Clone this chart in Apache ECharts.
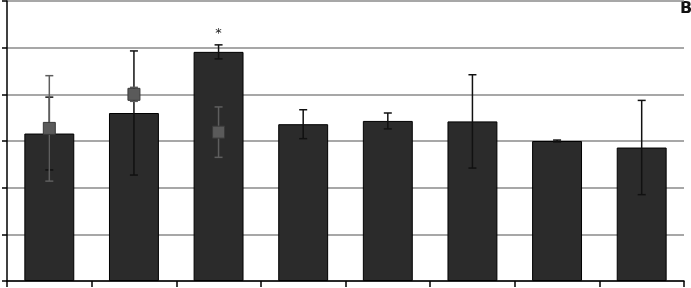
<!DOCTYPE html>
<html>
<head>
<meta charset="utf-8">
<script src="https://cdn.jsdelivr.net/npm/echarts@6/dist/echarts.min.js"></script>
<style>html,body{margin:0;padding:0;background:#fff}#c{width:691px;height:288px}</style>
</head>
<body>
<div id="c"></div>
<script>
var categories = ['1', '2', '3', '4', '5', '6', '7', '8'];
var barValues = [3.16, 3.60, 4.91, 3.36, 3.43, 3.42, 3.00, 2.86];
var barErrors = [0.78, 1.33, 0.15, 0.31, 0.17, 1.00, 0.02, 1.01];
var squareValues = [3.27, 4.00, 3.19, '-', '-', '-', '-', '-'];
var squareErrors = [1.13, 0.15, 0.54, 0, 0, 0, 0, 0];
var annotations = ['', '', '*', '', '', '', '', ''];
var yTicks = [0, 1, 2, 3, 4, 5, 6];

var chart = echarts.init(document.getElementById('c'), null, {renderer: 'canvas'});

function errData(vals, errs) {
  var d = [];
  for (var i = 0; i < vals.length; i++) {
    if (vals[i] === '-') continue;
    d.push([i, vals[i] - errs[i], vals[i] + errs[i], annotations[i]]);
  }
  return d;
}

function errRender(color, cap, withText) {
  return function (params, api) {
    var x = api.value(0);
    var lo = api.coord([x, api.value(1)]);
    var hi = api.coord([x, api.value(2)]);
    var st = {stroke: color, lineWidth: 1.5};
    var children = [
      {type: 'line', shape: {x1: hi[0], y1: hi[1], x2: lo[0], y2: lo[1]}, style: st},
      {type: 'line', shape: {x1: hi[0] - cap, y1: hi[1], x2: hi[0] + cap, y2: hi[1]}, style: st},
      {type: 'line', shape: {x1: lo[0] - cap, y1: lo[1], x2: lo[0] + cap, y2: lo[1]}, style: st}
    ];
    if (withText && api.value(3)) {
      children.push({type: 'text', style: {text: String(api.value(3)), x: hi[0], y: hi[1] - 11,
        textAlign: 'center', textVerticalAlign: 'middle', fill: '#222', font: '13px "DejaVu Sans"'}});
    }
    return {type: 'group', children: children};
  };
}

chart.setOption({
  animation: false,
  grid: {left: 7, right: 7, top: 1, bottom: 7, containLabel: false},
  xAxis: {
    type: 'category',
    data: categories,
    boundaryGap: true,
    axisLine: {lineStyle: {color: '#000', width: 1.5}},
    axisTick: {show: true, length: 6, lineStyle: {color: '#000', width: 1.5}},
    axisLabel: {show: false}
  },
  yAxis: {
    type: 'value',
    min: yTicks[0],
    max: yTicks[yTicks.length - 1],
    interval: 1,
    axisLine: {show: true, lineStyle: {color: '#000', width: 1.5}},
    axisTick: {show: true, length: 5, lineStyle: {color: '#000', width: 1.5}},
    axisLabel: {show: false},
    splitLine: {show: true, lineStyle: {color: '#8a8a8a', width: 1.5}}
  },
  series: [
    {
      type: 'bar',
      data: barValues,
      barWidth: '59%',
      itemStyle: {color: '#2b2b2b', borderColor: '#000', borderWidth: 1},
      z: 2
    },
    {
      type: 'custom',
      data: errData(barValues, barErrors),
      encode: {x: 0, y: [1, 2]},
      renderItem: errRender('#111', 4, true),
      z: 3
    },
    {
      type: 'custom',
      data: errData(squareValues, squareErrors),
      encode: {x: 0, y: [1, 2]},
      renderItem: errRender('#5e5e5e', 4, false),
      z: 4
    },
    {
      type: 'scatter',
      data: squareValues,
      symbol: 'rect',
      symbolSize: 12,
      itemStyle: {color: '#5a5a5a', borderColor: '#3a3a3a', borderWidth: 1, opacity: 1},
      z: 5
    }
  ],
  graphic: [
    {type: 'text', left: 680, top: 1, style: {text: 'B', fill: '#111', font: 'bold 16px "DejaVu Sans"'}}
  ]
});
</script>
</body>
</html>
